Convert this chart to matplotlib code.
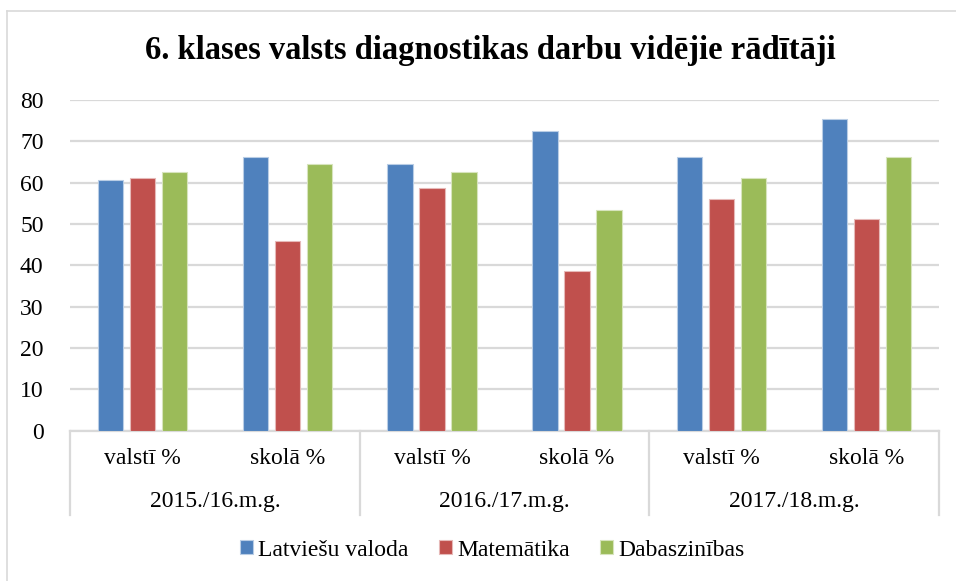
import matplotlib
matplotlib.use("Agg")
import matplotlib.pyplot as plt
from matplotlib.lines import Line2D
import numpy as np

# data
years = ["2015./16.m.g.", "2016./17.m.g.", "2017./18.m.g."]
sub_labels = ["valstī %", "skolā %"]
series_names = ["Latviešu valoda", "Matemātika", "Dabaszinības"]
latviesu = [60.7, 66.1, 64.5, 72.5, 66.2, 75.4]
matematika = [61.1, 45.8, 58.7, 38.7, 56.0, 51.1]
dabaszinibas = [62.7, 64.5, 62.7, 53.4, 61.1, 66.2]
yticks = [0, 10, 20, 30, 40, 50, 60, 70, 80]

colors = ["#4F81BD", "#C0504D", "#9BBB59"]
edge_colors = ["#B9CDE5", "#E6B9B8", "#D7E4BD"]
grid_color = "#D9D9D9"

plt.rcParams["font.family"] = ["Liberation Serif", "DejaVu Serif"]

W, H = 956, 581
fig = plt.figure(figsize=(W / 100, H / 100), dpi=100)

# axes placed in pixel units measured on the reference
left, right, top, bottom = 70, 939, 100, 430.7
ax = fig.add_axes([left / W, 1 - bottom / H, (right - left) / W, (bottom - top) / H])

x = np.arange(len(latviesu))
step = 0.221
width = 0.175
for i, vals in enumerate([latviesu, matematika, dabaszinibas]):
    ax.bar(x + (i - 1) * step, vals, width, color=colors[i],
           edgecolor=edge_colors[i], linewidth=0.8, label=series_names[i], zorder=3)

ax.set_xlim(-0.5, len(x) - 0.5)
ax.set_ylim(0, 80)
ax.set_yticks(yticks)
ax.tick_params(axis="y", length=0, pad=19, labelsize=17)
ax.set_xticks([])
ax.yaxis.grid(True, color=grid_color, linewidth=1.6, zorder=0)
for s in ["left", "right", "top"]:
    ax.spines[s].set_visible(False)
ax.spines["bottom"].set_color(grid_color)
ax.spines["bottom"].set_linewidth(1.6)

# two-level category axis
trans = ax.get_xaxis_transform()
ax_h = bottom - top
sub_y = -(459 - bottom) / ax_h
year_y = -(502 - bottom) / ax_h
sep_y = -(515 - bottom) / ax_h
for i, xi in enumerate(x):
    ax.text(xi, sub_y, sub_labels[i % 2], transform=trans, ha="center",
            va="center", fontsize=17)
for j, yr in enumerate(years):
    ax.text(2 * j + 0.5, year_y, yr, transform=trans, ha="center",
            va="center", fontsize=17)
for xs in np.arange(-0.5, len(x), 2):
    ax.add_line(Line2D([xs, xs], [0, sep_y], transform=trans, color=grid_color,
                       linewidth=1.6, clip_on=False))

fig.text(0.513, 1 - 50 / H, "6. klases valsts diagnostikas darbu vidējie rādītāji",
         ha="center", va="center", fontsize=23.5, fontweight="bold")

fig.legend(loc="center", bbox_to_anchor=(0.515, 1 - 550 / H), ncol=3, frameon=False,
           fontsize=17, handlelength=0.55, handleheight=0.55, handletextpad=0.2,
           columnspacing=1.3)

# chart border (only top and left edges visible in the reference)
fig.add_artist(Line2D([7 / W, 1], [1 - 11 / H, 1 - 11 / H], transform=fig.transFigure,
                      color=grid_color, linewidth=1.2))
fig.add_artist(Line2D([7 / W, 7 / W], [0, 1 - 11 / H], transform=fig.transFigure,
                      color=grid_color, linewidth=1.2))

fig.savefig("out.png", dpi=100, facecolor="white")
